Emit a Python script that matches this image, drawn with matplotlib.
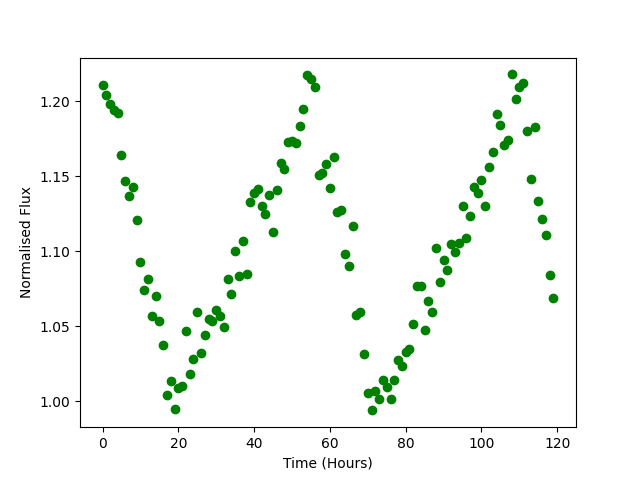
import matplotlib
matplotlib.use("Agg")
import matplotlib.pyplot as plt
import numpy as np

# one reading per hour
hours = np.arange(120)

flux = [
    1.2107, 1.2040, 1.1980, 1.1940, 1.1918, 1.1638, 1.1470, 1.1367, 1.1430, 1.1205,
    1.0927, 1.0745, 1.0813, 1.0567, 1.0705, 1.0538, 1.0373, 1.0040, 1.0138, 0.9947,
    1.0091, 1.0104, 1.0467, 1.0180, 1.0280, 1.0593, 1.0325, 1.0445, 1.0549, 1.0538,
    1.0609, 1.0571, 1.0493, 1.0813, 1.0718, 1.1005, 1.0838, 1.1071, 1.0851, 1.1325,
    1.1385, 1.1413, 1.1300, 1.1251, 1.1378, 1.1131, 1.1411, 1.1587, 1.1545, 1.1727,
    1.1733, 1.1722, 1.1831, 1.1945, 1.2173, 1.2147, 1.2091, 1.1507, 1.1518, 1.1578,
    1.1420, 1.1625, 1.1260, 1.1273, 1.0980, 1.0900, 1.1167, 1.0578, 1.0593, 1.0313,
    1.0058, 0.9940, 1.0069, 1.0013, 1.0140, 1.0096, 1.0013, 1.0140, 1.0273, 1.0233,
    1.0329, 1.0351, 1.0518, 1.0771, 1.0771, 1.0478, 1.0667, 1.0598, 1.1025, 1.0798,
    1.0940, 1.0878, 1.1049, 1.0996, 1.1053, 1.1300, 1.1085, 1.1233, 1.1427, 1.1391,
    1.1473, 1.1300, 1.1560, 1.1660, 1.1913, 1.1840, 1.1711, 1.1740, 1.2178, 1.2011,
    1.2091, 1.2120, 1.1800, 1.1480, 1.1827, 1.1338, 1.1218, 1.1107, 1.0840, 1.0687,
]

fig = plt.figure(figsize=(6.4, 4.8), dpi=100)
plt.plot(hours, flux, 'go')
plt.xlabel('Time (Hours)')
plt.ylabel('Normalised Flux')
plt.savefig('out.png')
